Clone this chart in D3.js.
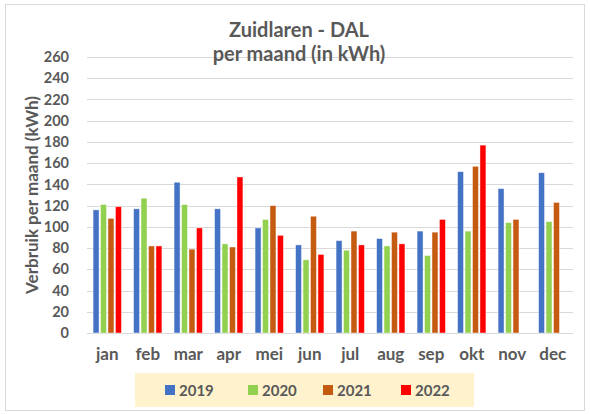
<!DOCTYPE html>
<html>
<head>
<meta charset="utf-8">
<script src="https://cdn.jsdelivr.net/npm/d3@7"></script>
<style>
  body { margin: 0; background: #fff; }
  text { font-family: Lato, "Open Sans", sans-serif; font-weight: bold; fill: #595959; }
</style>
</head>
<body>
<div id="chart"></div>
<script>
// data
var months = ['jan', 'feb', 'mar', 'apr', 'mei', 'jun', 'jul', 'aug', 'sep', 'okt', 'nov', 'dec'];
var years = ['2019', '2020', '2021', '2022'];
var v2019 = [116, 117, 142, 117, 99, 83, 87, 89, 96, 152, 136, 151];
var v2020 = [121, 127, 121, 84, 107, 69, 78, 82, 73, 96, 104, 105];
var v2021 = [108, 82, 79, 81, 120, 110, 96, 95, 95, 157, 107, 123];
var v2022 = [119, 82, 99, 147, 92, 74, 83, 84, 107, 177, null, null];
var yTicks = [0, 20, 40, 60, 80, 100, 120, 140, 160, 180, 200, 220, 240, 260];

var series = [v2019, v2020, v2021, v2022];
var colors = ['#4472C4', '#92D050', '#C55A11', '#FF0000'];

var width = 590;
var height = 414;
var plot = { left: 87, right: 573, top: 57, bottom: 333 };

var svg = d3.select('#chart')
	.append('svg')
	.attr('width', width)
	.attr('height', height);

// outer frame
svg.append('rect')
	.attr('x', 5.5).attr('y', 4.5)
	.attr('width', 579).attr('height', 406)
	.attr('fill', '#fff')
	.attr('stroke', '#D9D9D9');

var x0 = d3.scaleBand()
	.domain(months)
	.range([plot.left, plot.right])
	.paddingInner(0.3)
	.paddingOuter(0.15);

var x1 = d3.scaleBand()
	.domain(years)
	.range([0, x0.bandwidth()])
	.paddingInner(0.2);

var y = d3.scaleLinear()
	.domain([0, 260])
	.range([plot.bottom, plot.top]);

// grid lines
svg.append('g')
	.selectAll('line')
	.data(yTicks)
	.enter()
	.append('line')
	.attr('x1', plot.left)
	.attr('x2', plot.right)
	.attr('y1', function(d) { return Math.round(y(d)) + 0.5; })
	.attr('y2', function(d) { return Math.round(y(d)) + 0.5; })
	.attr('stroke', '#D9D9D9')
	.attr('stroke-width', 1);

// y axis labels
var yAxis = d3.axisLeft(y).tickValues(yTicks).tickSize(0).tickPadding(0);
var gy = svg.append('g')
	.attr('transform', 'translate(69,0)')
	.call(yAxis);
gy.select('.domain').remove();
gy.selectAll('text')
	.style('font-size', '14.5px')
	.attr('fill', '#595959');

// x axis labels
var xAxis = d3.axisBottom(x0).tickSize(0).tickPadding(0);
var gx = svg.append('g')
	.attr('transform', 'translate(0,348)')
	.call(xAxis);
gx.select('.domain').remove();
gx.selectAll('text')
	.style('font-size', '17px')
	.attr('fill', '#595959');

// bars
var groups = svg.append('g')
	.selectAll('g')
	.data(months)
	.enter()
	.append('g')
	.attr('transform', function(d) { return 'translate(' + x0(d) + ',0)'; });

groups.selectAll('rect')
	.data(function(m, i) {
		return years.map(function(yr, j) { return { year: yr, value: series[j][i], color: colors[j] }; })
			.filter(function(d) { return d.value != null; });
	})
	.enter()
	.append('rect')
	.attr('x', function(d) { return x1(d.year); })
	.attr('y', function(d) { return y(d.value); })
	.attr('width', x1.bandwidth())
	.attr('height', function(d) { return y(0) - y(d.value); })
	.attr('fill', function(d) { return d.color; })
	.attr('stroke', 'rgba(255,255,255,0.55)')
	.attr('stroke-width', 0.8);

// title
svg.append('text')
	.attr('x', 299).attr('y', 37)
	.attr('text-anchor', 'middle')
	.style('font-size', '20px')
	.text('Zuidlaren - DAL');
svg.append('text')
	.attr('x', 299).attr('y', 61)
	.attr('text-anchor', 'middle')
	.style('font-size', '20px')
	.text('per maand (in kWh)');

// y axis title
svg.append('text')
	.attr('transform', 'translate(38,' + ((plot.top + plot.bottom) / 2) + ') rotate(-90)')
	.attr('text-anchor', 'middle')
	.style('font-size', '17px')
	.text('Verbruik per maand (kWh)');

// legend
svg.append('rect')
	.attr('x', 135).attr('y', 373)
	.attr('width', 339).attr('height', 34)
	.attr('fill', '#FFF2CC');

var legendX = [165, 248, 323, 401];
var legend = svg.append('g')
	.selectAll('g')
	.data(years)
	.enter()
	.append('g')
	.attr('transform', function(d, i) { return 'translate(' + legendX[i] + ',390)'; });

legend.append('rect')
	.attr('x', 0).attr('y', -5)
	.attr('width', 10).attr('height', 10)
	.attr('fill', function(d, i) { return colors[i]; });

legend.append('text')
	.attr('x', 14).attr('y', 5.5)
	.style('font-size', '15px')
	.text(function(d) { return d; });
</script>
</body>
</html>
